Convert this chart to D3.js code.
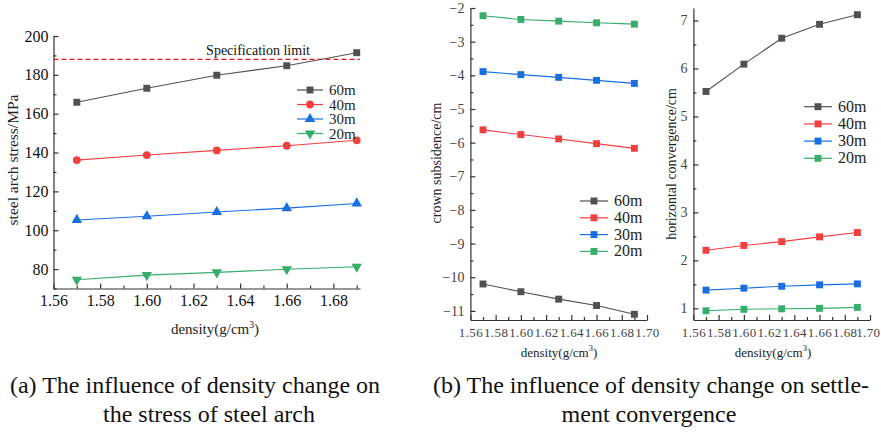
<!DOCTYPE html>
<html>
<head>
<meta charset="utf-8">
<script src="https://cdn.jsdelivr.net/npm/d3@7"></script>
<style>
  body { margin: 0; background: #fff; }
  svg { display: block; }
</style>
</head>
<body>
<svg id="fig" width="881" height="433" font-family="Liberation Serif"></svg>
<script>
// data
var densities = [1.57, 1.60, 1.63, 1.66, 1.69];
var seriesNames = ["60m", "40m", "30m", "20m"];

var stress60 = [165.9, 173.1, 179.8, 184.7, 191.4];
var stress40 = [136.1, 138.7, 141.1, 143.5, 146.3];
var stress30 = [105.3, 107.2, 109.4, 111.4, 113.8];
var stress20 = [74.5, 76.9, 78.3, 79.9, 81.2];
var specLimit = 188;

var subs60 = [-10.20, -10.43, -10.65, -10.84, -11.10];
var subs40 = [-5.62, -5.76, -5.89, -6.03, -6.17];
var subs30 = [-3.89, -3.98, -4.06, -4.15, -4.24];
var subs20 = [-2.23, -2.34, -2.39, -2.44, -2.48];

var conv60 = [5.52, 6.09, 6.63, 6.92, 7.12];
var conv40 = [2.21, 2.31, 2.39, 2.49, 2.58];
var conv30 = [1.38, 1.42, 1.46, 1.49, 1.51];
var conv20 = [0.95, 0.98, 0.99, 1.00, 1.02];

var xTicks = [1.56, 1.58, 1.60, 1.62, 1.64, 1.66, 1.68, 1.70];
var xMinor = [1.57, 1.59, 1.61, 1.63, 1.65, 1.67, 1.69];

var colors = ["#515151", "#F14040", "#1A6FDF", "#37AD6B"];
var svg = d3.select("#fig");
var FONT = "Liberation Serif";

function panel(p) {
  var g = svg.append("g");
  var x = d3.scaleLinear().domain(p.xDomain).range(p.xRange);
  var y = d3.scaleLinear().domain(p.yDomain).range(p.yRange);
  var inX = function(v){ return x(v) <= p.xRange[1] + 0.5; };

  // minor ticks
  g.append("g").attr("transform", "translate(0," + p.yRange[0] + ")")
    .call(d3.axisBottom(x).tickValues(xMinor.filter(inX)).tickSizeInner(-3).tickSizeOuter(0).tickFormat(""))
    .call(function(a){ a.select(".domain").remove(); });
  g.append("g").attr("transform", "translate(" + p.xRange[0] + ",0)")
    .call(d3.axisLeft(y).tickValues(p.yMinor).tickSizeInner(-3).tickSizeOuter(0).tickFormat(""))
    .call(function(a){ a.select(".domain").remove(); });

  var xa = g.append("g").attr("transform", "translate(0," + p.yRange[0] + ")")
    .call(d3.axisBottom(x).tickValues(xTicks.filter(inX))
      .tickSizeInner(-5).tickSizeOuter(0).tickPadding(p.xPad).tickFormat(d3.format(".2f")));
  xa.selectAll("text").attr("font-size", p.xFont).attr("letter-spacing", p.xSpacing).attr("fill", p.tickColor);
  if (p.lastTickEnd) {
    // keep the last label inside the picture
    xa.selectAll(".tick text").filter(function(d){ return d === 1.70; })
      .attr("text-anchor", "end").attr("dx", 10);
  }

  var ya = g.append("g").attr("transform", "translate(" + p.xRange[0] + ",0)")
    .call(d3.axisLeft(y).tickValues(p.yTicks).tickSizeInner(-5).tickSizeOuter(0).tickPadding(p.yPad)
      .tickFormat(d3.format("d")));
  ya.selectAll("text").attr("font-size", p.yFont).attr("fill", p.tickColor);

  g.selectAll("g").attr("font-family", FONT);
  g.selectAll(".domain, .tick line").attr("stroke", "#333").attr("stroke-width", 1.2);

  // axis titles
  g.append("text").attr("x", p.xTitle[0]).attr("y", p.xTitle[1]).attr("text-anchor", "middle")
    .attr("font-size", p.xTitleFont).attr("fill", "#222")
    .html("density(g/cm<tspan dy='-6' font-size='" + (p.xTitleFont * 0.65) + "'>3</tspan><tspan dy='6'>)</tspan>");
  g.append("text").attr("transform", "translate(" + p.yTitle[0] + "," + p.yTitle[1] + ") rotate(-90)")
    .attr("text-anchor", "middle").attr("font-size", p.yTitleFont).attr("fill", "#222").text(p.yLabel);

  if (p.limit !== undefined) {
    g.append("line").attr("x1", p.xRange[0]).attr("x2", p.xRange[1])
      .attr("y1", y(p.limit)).attr("y2", y(p.limit))
      .attr("stroke", "#e8161b").attr("stroke-width", 1.2).attr("stroke-dasharray", "5,3");
    g.append("text").attr("x", 258).attr("y", y(p.limit) - 4).attr("text-anchor", "middle")
      .attr("font-size", 14).attr("fill", "#111").text("Specification limit");
  }

  var line = d3.line().x(function(d, i){ return x(densities[i]); }).y(function(d){ return y(d); });
  p.series.forEach(function(vals, k) {
    g.append("path").datum(vals).attr("d", line).attr("fill", "none")
      .attr("stroke", colors[k]).attr("stroke-width", 1.1);
    g.selectAll(null).data(vals).enter().append("path")
      .attr("transform", function(d, i){ return "translate(" + x(densities[i]) + "," + y(d) + ")"; })
      .attr("d", d3.symbol().type(p.symbols[k]).size(p.symSize)).attr("fill", colors[k]);
    // legend
    var ly = p.legend[1] + k * p.legend[3];
    g.append("line").attr("x1", p.legend[0]).attr("x2", p.legend[0] + p.legend[2])
      .attr("y1", ly).attr("y2", ly).attr("stroke", colors[k]).attr("stroke-width", 1.2);
    g.append("path").attr("transform", "translate(" + (p.legend[0] + p.legend[2] / 2) + "," + ly + ")")
      .attr("d", d3.symbol().type(p.symbols[k]).size(p.symSize)).attr("fill", colors[k]);
    g.append("text").attr("x", p.legend[0] + p.legend[2] + 6).attr("y", ly + 5)
      .attr("font-size", p.legendFont).attr("fill", "#222").text(seriesNames[k]);
  });
}

var triDown = { draw: function(ctx, size) {
  var s = Math.sqrt(size * 4 / Math.sqrt(3));
  var h = s * Math.sqrt(3) / 2;
  ctx.moveTo(-s / 2, -h / 3); ctx.lineTo(s / 2, -h / 3); ctx.lineTo(0, 2 * h / 3); ctx.closePath();
}};

panel({
  xDomain: [1.56, 1.6914], xRange: [53.5, 360],
  yDomain: [70, 200], yRange: [288.5, 36],
  yTicks: [80, 100, 120, 140, 160, 180, 200], yMinor: [70, 90, 110, 130, 150, 170, 190],
  xFont: 16, xSpacing: 0, xPad: 6, yFont: 16, yPad: 5, tickColor: "#111",
  xTitle: [215, 334], xTitleFont: 15,
  yTitle: [18, 160], yTitleFont: 15.5, yLabel: "steel arch stress/MPa",
  limit: specLimit,
  series: [stress60, stress40, stress30, stress20],
  symbols: [d3.symbolSquare, d3.symbolCircle, d3.symbolTriangle, triDown], symSize: 48,
  legend: [297, 90, 26, 14.5], legendFont: 15
});

panel({
  xDomain: [1.56, 1.70], xRange: [470.4, 647],
  yDomain: [-11.27, -2], yRange: [320, 8],
  yTicks: d3.range(-11, -1, 1), yMinor: d3.range(-10.5, -2, 1),
  xFont: 13, xSpacing: 0.4, xPad: 8, yFont: 14, yPad: 6, tickColor: "#444",
  xTitle: [559, 357], xTitleFont: 13,
  yTitle: [441, 163], yTitleFont: 14, yLabel: "crown subsidence/cm",
  series: [subs60, subs40, subs30, subs20],
  symbols: [d3.symbolSquare, d3.symbolSquare, d3.symbolSquare, d3.symbolSquare], symSize: 48,
  legend: [580, 201, 28, 16.8], legendFont: 16
});

panel({
  xDomain: [1.56, 1.70], xRange: [693.4, 870],
  yDomain: [0.757, 7.26], yRange: [320, 8],
  yTicks: [1, 2, 3, 4, 5, 6, 7], yMinor: [1.5, 2.5, 3.5, 4.5, 5.5, 6.5],
  xFont: 13, xSpacing: 0.4, xPad: 8, yFont: 14, yPad: 6, tickColor: "#444", lastTickEnd: true,
  xTitle: [773, 357], xTitleFont: 13,
  yTitle: [676, 164], yTitleFont: 14, yLabel: "horizontal convergence/cm",
  series: [conv60, conv40, conv30, conv20],
  symbols: [d3.symbolSquare, d3.symbolSquare, d3.symbolSquare, d3.symbolSquare], symSize: 48,
  legend: [804, 106.7, 28, 17.2], legendFont: 16
});

// captions
var captions = [
  [195, 393, "(a) The influence of density change on"],
  [209, 422, "the stress of steel arch"],
  [651, 393, "(b) The influence of density change on settle-"],
  [649, 422, "ment convergence"]
];
svg.selectAll(".cap").data(captions).enter().append("text")
  .attr("x", function(d){ return d[0]; }).attr("y", function(d){ return d[1]; })
  .attr("text-anchor", "middle").attr("font-size", 24).attr("fill", "#111")
  .text(function(d){ return d[2]; });
</script>
</body>
</html>
